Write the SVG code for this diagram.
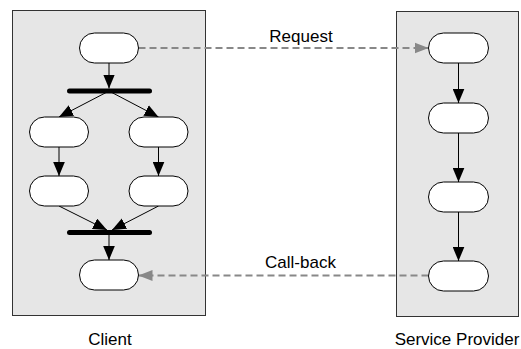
<svg xmlns="http://www.w3.org/2000/svg" width="521" height="349" viewBox="0 0 521 349">
<style>
.panel{fill:#e6e6e6;stroke:#333;stroke-width:1}
.node{fill:#fff;stroke:#000;stroke-width:1}
.bar{stroke:#000;stroke-width:5;stroke-linecap:round}
.flow{stroke:#000;stroke-width:1;fill:none;marker-end:url(#ah)}
.msg{stroke:#888;stroke-width:2;fill:none;stroke-dasharray:7 4;marker-end:url(#gh)}
text{font-family:"Liberation Sans",Arial,sans-serif;font-size:17px;fill:#000;text-anchor:middle}
</style>
<defs>
<marker id="ah" markerUnits="userSpaceOnUse" markerWidth="14" markerHeight="12" viewBox="0 0 12 10" refX="12" refY="5" orient="auto">
<path d="M0,0 L12,5 L0,10 Z" fill="#000"/>
</marker>
<marker id="gh" markerUnits="userSpaceOnUse" markerWidth="14" markerHeight="12" viewBox="0 0 13 10" refX="13" refY="5" orient="auto">
<path d="M0,0 L13,5 L0,10 Z" fill="#888"/>
</marker>
</defs>
<g id="client-panel"><rect class="panel" x="12.5" y="10.5" width="193" height="305"/></g>
<g id="provider-panel"><rect class="panel" x="396.5" y="11.5" width="122" height="305"/></g>
<g id="connectors">
<line class="flow" x1="109" y1="63" x2="109" y2="88.5"/>
<line class="flow" x1="109" y1="91" x2="59" y2="117"/>
<line class="flow" x1="109" y1="91" x2="158.5" y2="117"/>
<line class="flow" x1="59" y1="147" x2="59" y2="176"/>
<line class="flow" x1="158.5" y1="147" x2="158.5" y2="176"/>
<line class="flow" x1="59" y1="206" x2="107" y2="230"/>
<line class="flow" x1="158.5" y1="206" x2="112" y2="230"/>
<line class="flow" x1="109" y1="232" x2="109" y2="260"/>
<line class="flow" x1="458.5" y1="63" x2="458.5" y2="103"/>
<line class="flow" x1="458.5" y1="133" x2="458.5" y2="182"/>
<line class="flow" x1="458.5" y1="212" x2="458.5" y2="261"/>
<line class="msg" x1="138.5" y1="48" x2="428.5" y2="48"/>
<line class="msg" x1="428.5" y1="275.5" x2="138.5" y2="275.5"/>
</g>
<g id="bar-fork"><line class="bar" x1="69.5" y1="91" x2="149.5" y2="91"/></g>
<g id="bar-join"><line class="bar" x1="69.5" y1="232.5" x2="149.5" y2="232.5"/></g>
<g id="c1"><rect class="node" x="79.5" y="33" width="59" height="30" rx="15"/></g>
<g id="c2"><rect class="node" x="29.5" y="117" width="59" height="30" rx="15"/></g>
<g id="c3"><rect class="node" x="129" y="117" width="59" height="30" rx="15"/></g>
<g id="c4"><rect class="node" x="29.5" y="176" width="59" height="30" rx="15"/></g>
<g id="c5"><rect class="node" x="129" y="176" width="59" height="30" rx="15"/></g>
<g id="c6"><rect class="node" x="79.5" y="260" width="59" height="30" rx="15"/></g>
<g id="s1"><rect class="node" x="428.5" y="33" width="60" height="30" rx="15"/></g>
<g id="s2"><rect class="node" x="428.5" y="103" width="60" height="30" rx="15"/></g>
<g id="s3"><rect class="node" x="428.5" y="182" width="60" height="30" rx="15"/></g>
<g id="s4"><rect class="node" x="428.5" y="261" width="60" height="30" rx="15"/></g>
<g id="labels">
<text x="301" y="42">Request</text>
<text x="300.5" y="268">Call-back</text>
<text x="110" y="345">Client</text>
<text x="457" y="345">Service Provider</text>
</g>
</svg>
